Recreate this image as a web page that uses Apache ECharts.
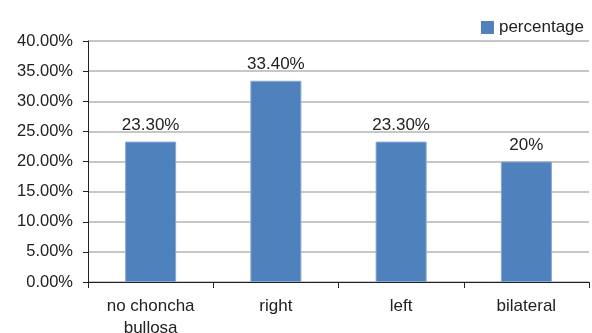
<!DOCTYPE html>
<html>
<head>
<meta charset="utf-8">
<script src="https://cdn.jsdelivr.net/npm/echarts@6/dist/echarts.min.js"></script>
<style>
  html, body { margin: 0; padding: 0; background: #fff; }
  #main { width: 592px; height: 333px; }
</style>
</head>
<body>
<div id="main"></div>
<script>
  // values
  var categories = ['no choncha\nbullosa', 'right', 'left', 'bilateral'];
  var percentage = [23.3, 33.4, 23.3, 20];
  var valueLabels = ['23.30%', '33.40%', '23.30%', '20%'];

  var myChart = echarts.init(document.getElementById('main'));
  var font = 'Liberation Sans, Arial, sans-serif';

  var option = {
    backgroundColor: '#ffffff',
    animation: false,
    textStyle: { fontFamily: font },
    legend: {
      data: ['percentage'],
      right: 3,
      top: 14,
      icon: 'rect',
      itemWidth: 13,
      itemHeight: 13,
      itemGap: 8,
      itemStyle: { borderWidth: 0 },
      textStyle: { fontFamily: font, fontSize: 17, color: '#222' }
    },
    grid: {
      left: 88,
      right: 3,
      top: 41,
      bottom: 51,
      outerBoundsMode: 'none'
    },
    xAxis: {
      type: 'category',
      data: categories,
      axisLine: { lineStyle: { color: '#222', width: 1 } },
      axisTick: { show: true, length: 6, lineStyle: { color: '#222' } },
      axisLabel: {
        fontFamily: font,
        fontSize: 17,
        color: '#222',
        margin: 13,
        lineHeight: 22
      }
    },
    yAxis: {
      type: 'value',
      min: 0,
      max: 40,
      interval: 5,
      axisLine: { show: true, lineStyle: { color: '#222', width: 1 } },
      axisTick: { show: true, length: 5, lineStyle: { color: '#222' } },
      splitLine: { lineStyle: { color: '#b4b4b4', width: 1.5 } },
      axisLabel: {
        fontFamily: font,
        fontSize: 16.5,
        color: '#222',
        margin: 15,
        formatter: function (v) { return v.toFixed(2) + '%'; }
      }
    },
    series: [
      {
        name: 'percentage',
        type: 'bar',
        data: percentage,
        barWidth: 51,
        itemStyle: {
          color: '#4f81bd',
          borderColor: '#86a8d4',
          borderWidth: 1
        },
        label: {
          show: true,
          position: 'top',
          distance: 8,
          fontFamily: font,
          fontSize: 17,
          color: '#222',
          formatter: function (p) { return valueLabels[p.dataIndex]; }
        }
      }
    ]
  };

  myChart.setOption(option);
</script>
</body>
</html>
